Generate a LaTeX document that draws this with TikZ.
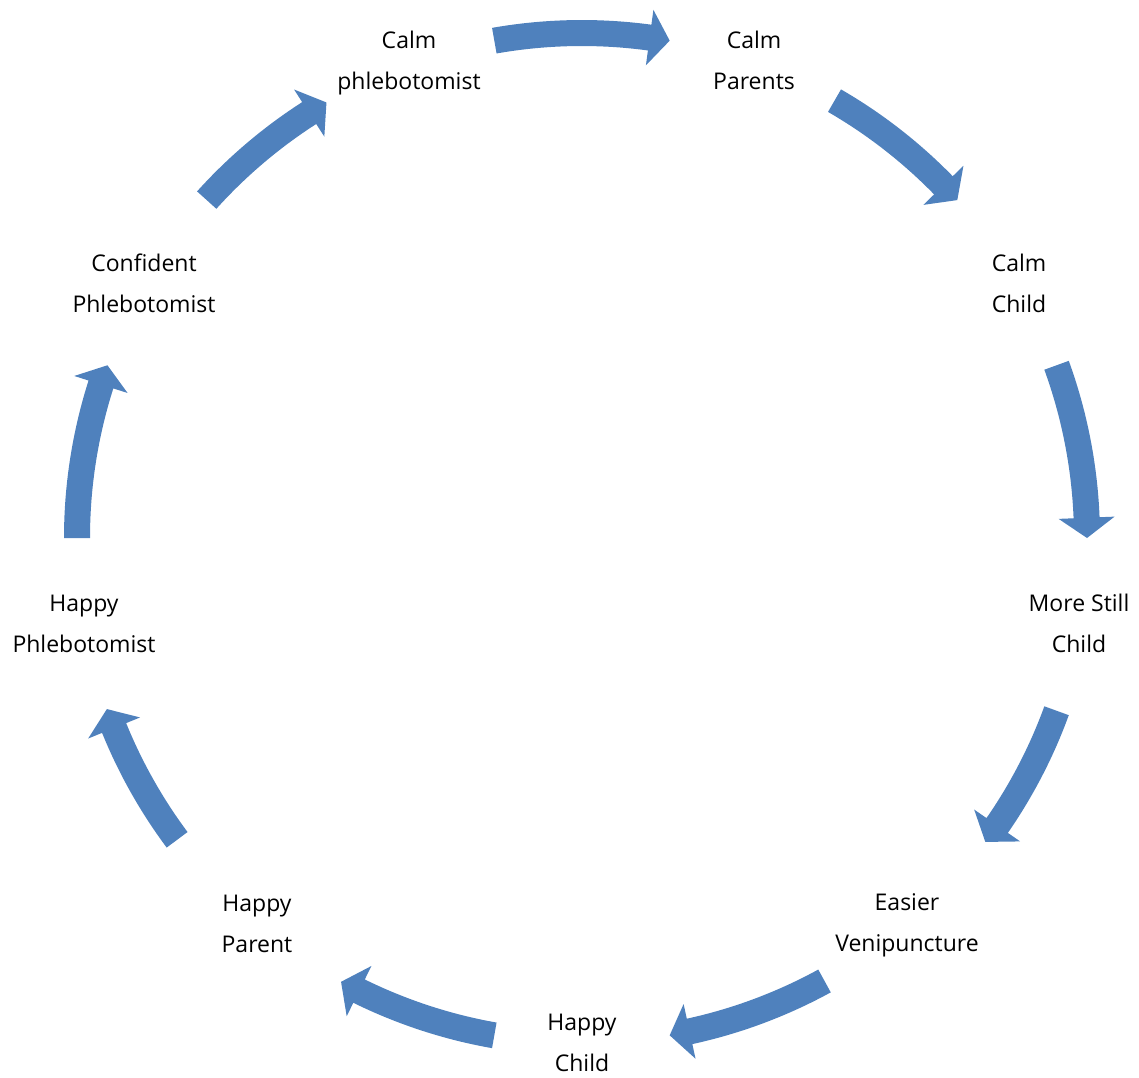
\documentclass[tikz,border=0pt]{standalone}
\usepackage{fontspec}
\setmainfont{Open Sans}
\definecolor{arrowblue}{RGB}{79,129,189}
\newcommand{\toprow}[1]{\vphantom{Hl}#1}
\newcommand{\botrow}[1]{\vphantom{hp}#1}
\begin{document}
\begin{tikzpicture}[x=1pt,y=1pt,
  lbl/.style={align=center,font=\fontsize{23}{41}\selectfont,inner sep=0pt,text=black},
  cyclearrow/.style={fill=arrowblue,draw=none}]
\useasboundingbox (0,0) rectangle (1139,-1077);
% labels
\node[lbl] (n1) at (409,-63)  {\toprow{Calm}\\\botrow{phlebotomist}};
\node[lbl] (n2) at (754,-63)  {\toprow{Calm}\\\botrow{Parents}};
\node[lbl] (n3) at (1019,-286) {\toprow{Calm}\\\botrow{Child}};
\node[lbl] (n4) at (1079,-626) {\toprow{More Still}\\\botrow{Child}};
\node[lbl] (n5) at (907,-925) {\toprow{Easier}\\\botrow{Venipuncture}};
\node[lbl] (n6) at (582,-1045) {\toprow{Happy}\\\botrow{Child}};
\node[lbl] (n7) at (257,-926) {\toprow{Happy}\\\botrow{Parent}};
\node[lbl] (n8) at (84,-626)  {\toprow{Happy}\\\botrow{Phlebotomist}};
\node[lbl] (n9) at (144,-286) {\toprow{Confident}\\\botrow{Phlebotomist}};
% curved block arrows on a circle (start angle / tip angle)
\begin{scope}[shift={(582,-538)}]
\def\rr{505}
\def\ww{13}
\def\hw{28}
\def\dh{2.3}
\foreach \a/\b in {100/80, 60/42, 20/0, -20/-37, -61.3/-80, -100/-118.5, -143.3/-160.2, -180/-200, 138/120.4}{
  \pgfmathsetmacro{\c}{\b+\dh}
  \pgfmathsetmacro{\ro}{\rr+\ww}
  \pgfmathsetmacro{\ri}{\rr-\ww}
  \pgfmathsetmacro{\ho}{\rr+\hw}
  \pgfmathsetmacro{\hi}{\rr-\hw}
  \fill[cyclearrow] (\a:\ro) arc[start angle=\a, end angle=\c, radius=\ro]
    -- (\c:\ho) -- (\b:\rr) -- (\c:\hi) -- (\c:\ri)
    arc[start angle=\c, end angle=\a, radius=\ri] -- cycle;
}
\end{scope}
\end{tikzpicture}
\end{document}
